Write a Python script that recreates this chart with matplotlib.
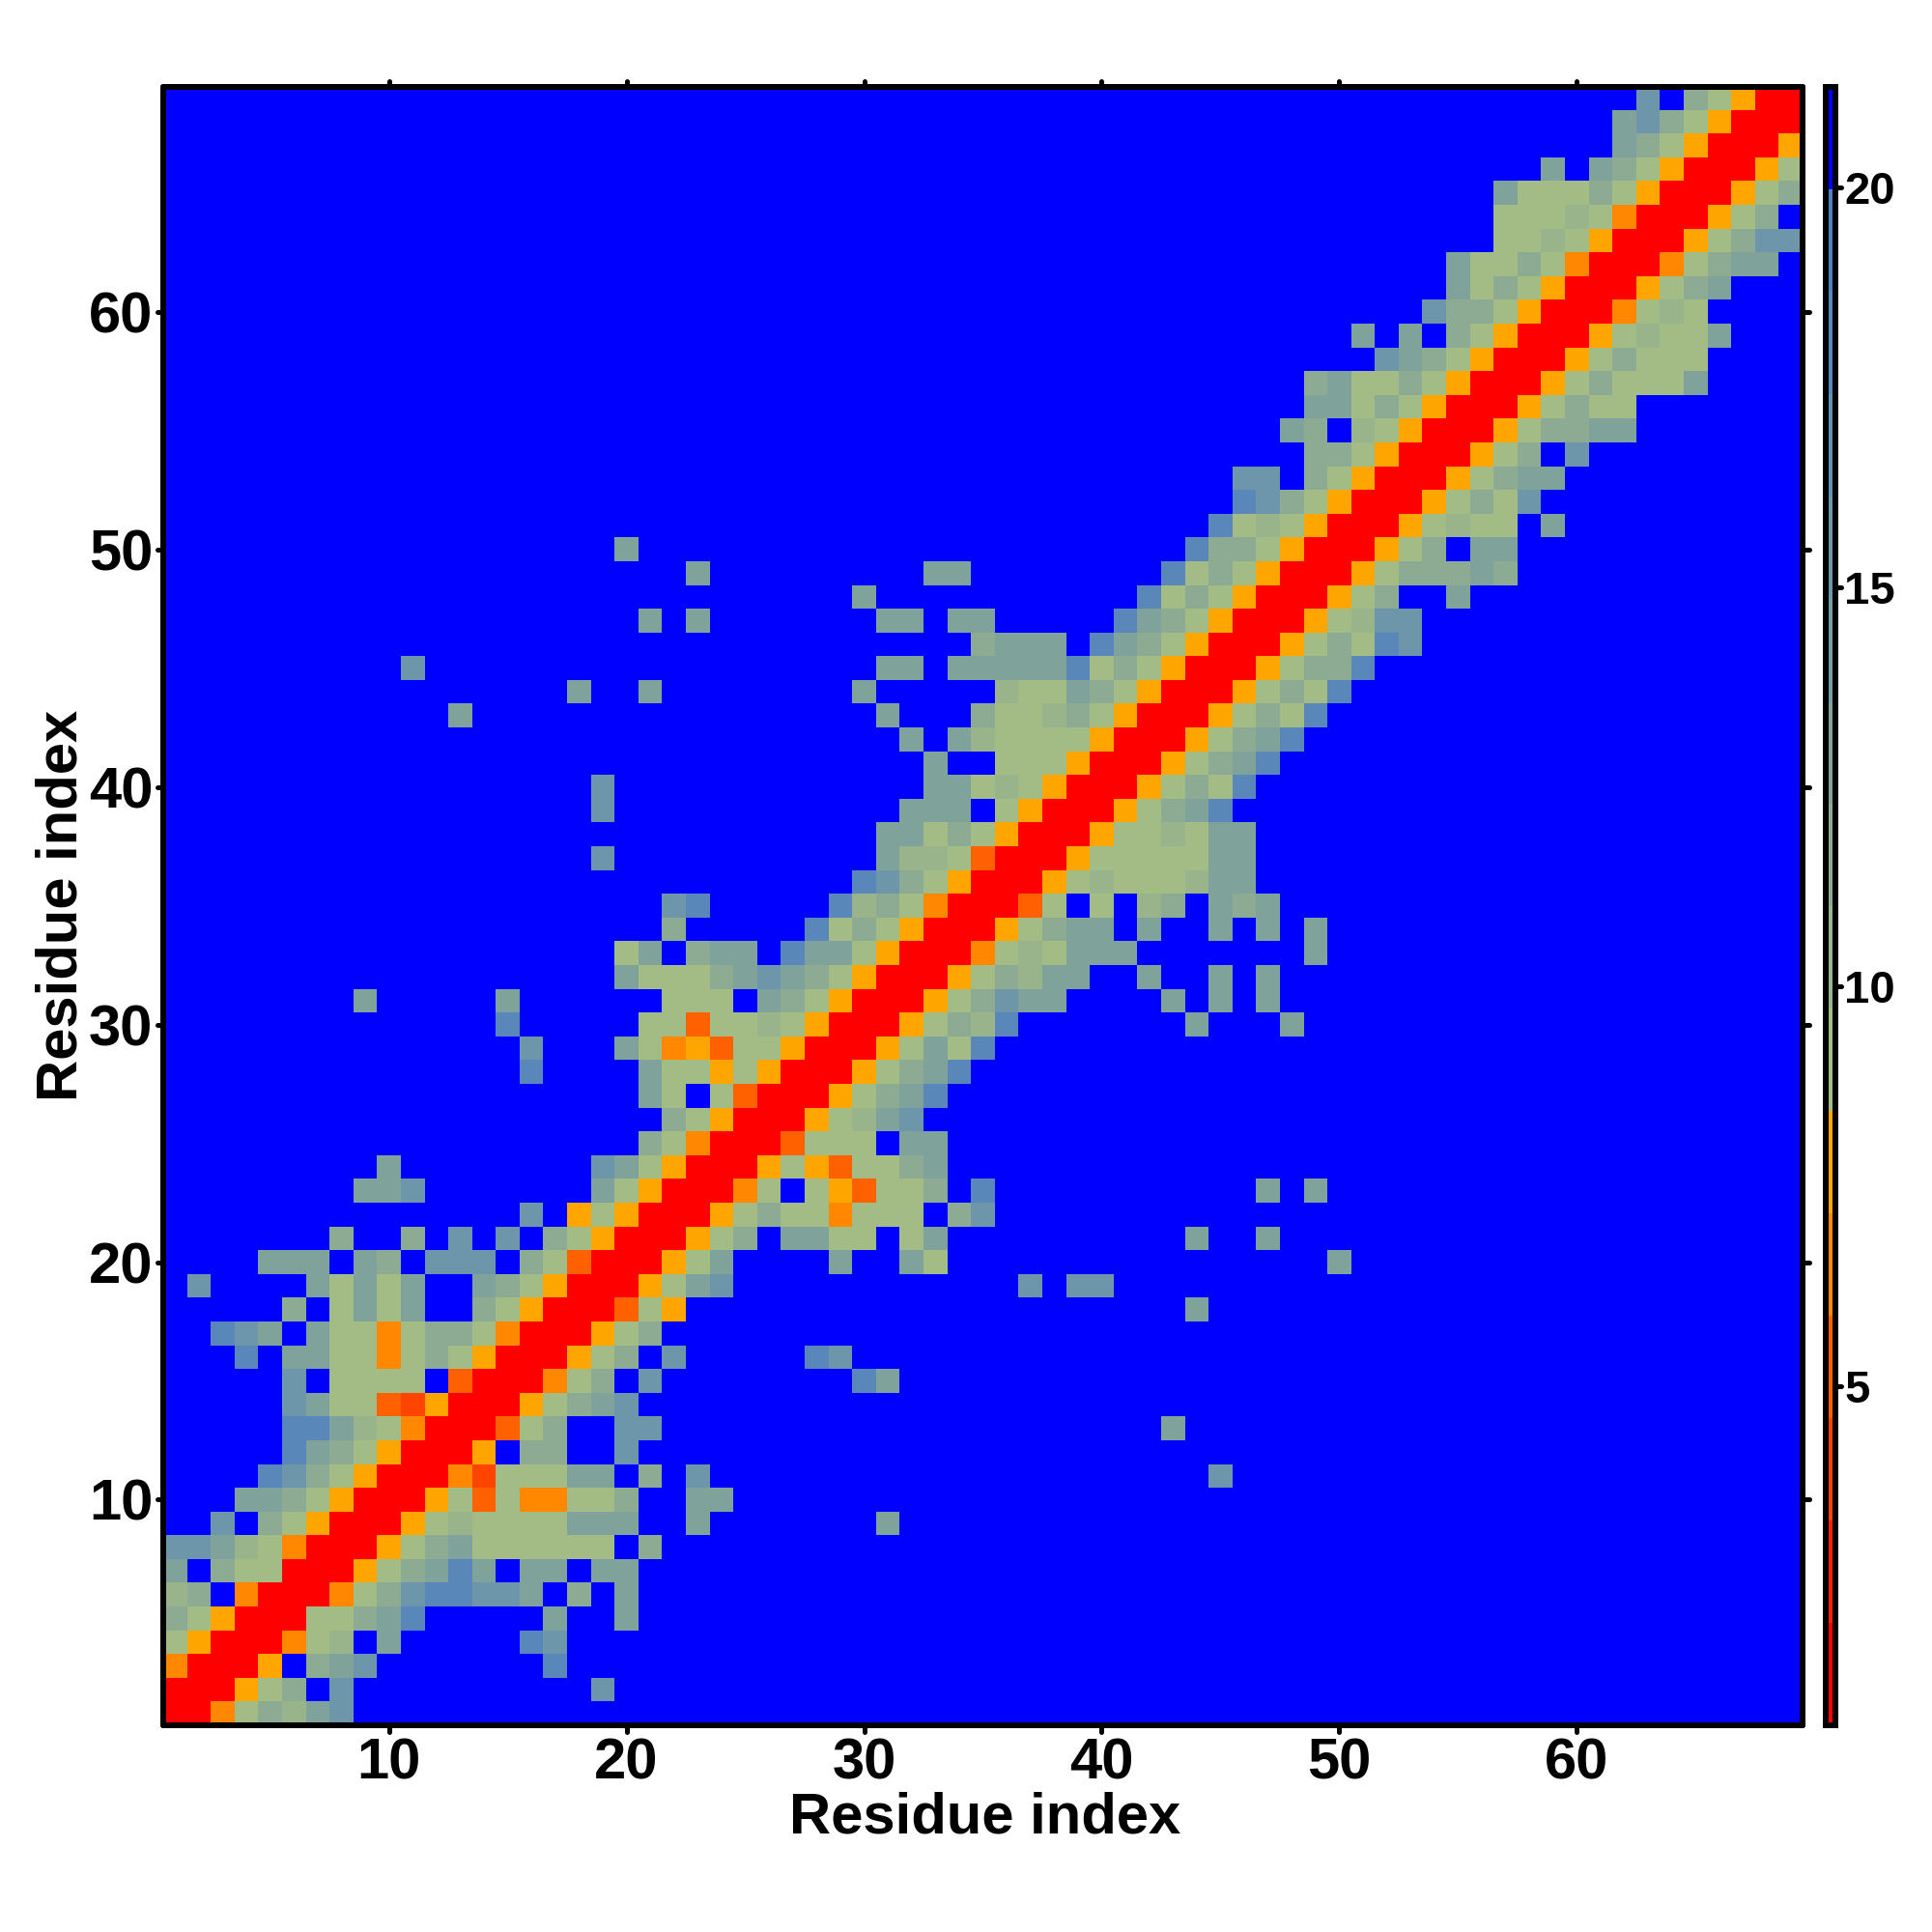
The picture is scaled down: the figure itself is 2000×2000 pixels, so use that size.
import numpy as np
import matplotlib
matplotlib.use("Agg")
import matplotlib.pyplot as plt
from matplotlib.colors import ListedColormap
from matplotlib.markers import MarkerStyle, TICKDOWN, TICKUP, TICKLEFT, TICKRIGHT

plt.rcParams['font.family'] = ['Liberation Sans', 'DejaVu Sans']
plt.rcParams['font.weight'] = 'bold'

N_RES = 69
VMIN, VMAX = 0.75, 21.27

# distance class of each letter
level_values = {'R': 1.39, 'G': 3.96, 'F': 5.24, 'O': 6.52, 'A': 7.80,
                'a': 9.09, 'b': 10.37, 'c': 11.65, 'd': 12.94,
                'e': 15.50, 'f': 18.07, '.': 20.63}

# row y: residues y+1, y+2, ... (matrix is symmetric)
near_rows = [
    "ROacbde", "RAac.e", "RA.cde", "ROab.d", "Raacdf", "ROaceffeed.c.d",
    "RAacdfd.dd.dd", "RAacdaaaaaa.c", "RAabaaaaddd..d", "RAaFaOOaac..dd",
    "ROGaaadd.c.e", "RA.cc..e", "RFac..ee", "RAacde", "ROac.e", "RAac.e",
    "RAac", "RFaA", "RAade", "RAad....d..da", "RAac.ddaa.ad", "RAacaaOaaa.ce",
    "ROa.aAFaac.f", "RAaAFaacd", "RFaaa.dd", "RAabde", "RAacdf", "RAacdf",
    "RAadaf", "RAacbf", "RAacedd", "RAacbdd..d..d.d", "ROabaddd",
    "RAacdd.d..d.d.d", "RFa.a.bc.dcd", "RAabaaabdd", "RAaaaaadd", "RAaabadd",
    "RAacdf", "RAacaf", "RAacdf", "RAacdf", "RAacaf", "RAacaf", "RAaccf",
    "RAacafe", "RAabee", "RAac..d", "RAacccdc", "RAac.dd", "RAabaa.d",
    "RAacae", "RAacdd", "RAac.e", "RAaccdd", "RAacaa", "RAacaaad", "RAacaaa",
    "RAabaad", "ROaba", "RAacd", "ROacdd", "RAacee", "RAac.", "RAac", "RAa",
    "RA", "R",
]

# isolated contacts far from the diagonal: (row, column, class)
far_contacts = [
    (2, 19, 'e'), (3, 17, 'f'), (4, 16, 'f'), (4, 17, 'e'), (5, 17, 'd'),
    (5, 20, 'd'), (9, 31, 'd'), (11, 45, 'e'), (13, 43, 'd'), (15, 30, 'f'),
    (15, 31, 'd'), (16, 28, 'f'), (16, 29, 'e'), (18, 44, 'd'), (19, 37, 'e'),
    (19, 39, 'e'), (19, 40, 'e'), (20, 50, 'd'), (21, 44, 'd'), (21, 47, 'd'),
    (23, 47, 'd'), (23, 49, 'd'), (30, 44, 'd'), (30, 48, 'd'), (31, 43, 'd'),
    (31, 45, 'd'), (31, 47, 'd'), (33, 49, 'd'),
]

band_colors = ['#ff0000', '#ff2000', '#ff4400', '#ff6000', '#ff8800', '#ffa500',
               '#a3bb85', '#99b48a', '#8cab92', '#7fa29b', '#779ca3', '#6d96ab',
               '#6490b2', '#5987b9', '#5080c0', '#0000ff']

x_ticks = [10, 20, 30, 40, 50, 60]
cbar_ticks = [5, 10, 15, 20]

matrix = np.full((N_RES, N_RES), level_values['.'])
np.fill_diagonal(matrix, level_values['R'])
for row, text in enumerate(near_rows):
    for k, ch in enumerate(text):
        matrix[row, row + 1 + k] = matrix[row + 1 + k, row] = level_values[ch]
for row, col, ch in far_contacts:
    matrix[row - 1, col - 1] = matrix[col - 1, row - 1] = level_values[ch]

W = 2000.0
def box(l, t, r, b):
    return [l / W, 1 - b / W, (r - l) / W, (b - t) / W]

px = 0.72  # one pixel in points at dpi 100
fig = plt.figure(figsize=(20, 20), dpi=100, facecolor='white')
ax = fig.add_axes(box(169, 89.5, 1866, 1786))
cax = fig.add_axes(box(1889.5, 89.5, 1900.5, 1786))

cmap = ListedColormap(band_colors)
im = ax.imshow(matrix, origin='lower', extent=(0.5, N_RES + 0.5, 0.5, N_RES + 0.5),
               cmap=cmap, vmin=VMIN, vmax=VMAX, interpolation='nearest', aspect='auto')
ax.set_xticks(x_ticks)
ax.set_yticks(x_ticks)
ax.tick_params(axis='both', which='major', direction='out', length=6.5 * px, width=5 * px,
               top=True, right=True, labelsize=43, pad=2)
ax.tick_params(axis='x', pad=6 * px)
ax.tick_params(axis='y', pad=4 * px)
for sp in ax.spines.values():
    sp.set_linewidth(6 * px)
    sp.set_capstyle('round')

cbar = fig.colorbar(im, cax=cax)
cbar.set_ticks(cbar_ticks)
cbar.minorticks_off()
cax.tick_params(axis='y', direction='out', length=6 * px, width=5 * px, labelsize=34, pad=2)
cbar.outline.set_linewidth(6 * px)
cbar.outline.set_capstyle('round')

def round_ticks(axis_obj, m1, m2):
    for t in axis_obj.get_major_ticks():
        t.tick1line.set_marker(MarkerStyle(m1, capstyle='round'))
        t.tick2line.set_marker(MarkerStyle(m2, capstyle='round'))
round_ticks(ax.xaxis, TICKDOWN, TICKUP)
round_ticks(ax.yaxis, TICKLEFT, TICKRIGHT)
round_ticks(cax.yaxis, TICKLEFT, TICKRIGHT)

ax.set_xlabel("Residue index", fontsize=43, fontweight='bold', va='baseline')
ax.xaxis.set_label_coords(0.501, -(1898 - 1786) / 1696.5)
ax.set_ylabel("Residue index", fontsize=43, fontweight='bold', va='baseline', rotation=90)
ax.yaxis.set_label_coords(-(169 - 80) / 1697, (1786 - 937) / 1696.5)

fig.savefig('out.png', dpi=100, facecolor='white')
